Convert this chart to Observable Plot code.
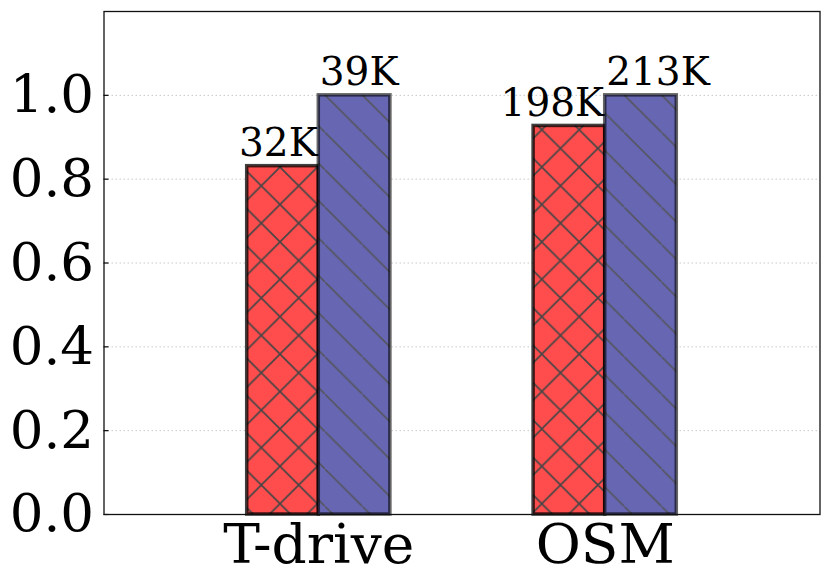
<!DOCTYPE html>
<html><head><meta charset="utf-8">
<script src="https://cdn.jsdelivr.net/npm/d3@7"></script>
<script src="https://cdn.jsdelivr.net/npm/@observablehq/plot@0.6"></script>
<style>html,body{margin:0;padding:0;background:#fff;} svg{display:block}</style>
</head><body><div id="chart"></div>
<script>
const categories = ["T-drive", "OSM"];
const redValues = [0.831, 0.927];
const blueValues = [1.0, 1.0];
const redLabels = ["32K", "198K"];
const blueLabels = ["39K", "213K"];
const yTicks = [0, 0.2, 0.4, 0.6, 0.8, 1.0];
const gridTicks = [0.2, 0.4, 0.6, 0.8, 1.0];

const barWidth = 0.25;
const red = categories.map((c, i) => ({i, cat: c, v: redValues[i], label: redLabels[i], x1: i - barWidth, x2: i}));
const blue = categories.map((c, i) => ({i, cat: c, v: blueValues[i], label: blueLabels[i], x1: i, x2: i + barWidth}));

const serif = "'DejaVu Serif', serif";
const svg = Plot.plot({
  width: 831, height: 584,
  marginLeft: 103.5, marginRight: 11.5, marginTop: 11, marginBottom: 70,
  style: {fontFamily: serif, background: "white", color: "black"},
  x: {type: "linear", domain: [-0.75, 1.75]},
  y: {domain: [0, 1.2]},
  marks: [
    Plot.gridY(gridTicks, {stroke: "#c8c8c8", strokeOpacity: 1, strokeWidth: 1, strokeDasharray: "1.5,2.5"}),
    Plot.rect(red, {x1: "x1", x2: "x2", y1: 0, y2: "v", fill: "url(#hatchRed)", stroke: "black", strokeOpacity: 0.75, strokeWidth: 3.5}),
    Plot.rect(blue, {x1: "x1", x2: "x2", y1: 0, y2: "v", fill: "url(#hatchBlue)", stroke: "black", strokeOpacity: 0.6, strokeWidth: 3.5}),
    Plot.text(red, {x: "x2", y: "v", text: "label", fontSize: 39, textAnchor: "end", lineAnchor: "bottom", dx: -1, dy: -10, fill: "black"}),
    Plot.text(blue, {x: "x1", y: "v", text: "label", fontSize: 39, textAnchor: "start", lineAnchor: "bottom", dx: 1, dy: -10, fill: "black"}),
    Plot.axisY({ticks: yTicks, tickFormat: d3.format(".1f"), tickSize: 0, tickPadding: 10, fontSize: 53, label: null}),
    Plot.axisY({ticks: yTicks, tickSize: -5, fill: "none", label: null, stroke: "black", strokeWidth: 1.2}),
    Plot.axisX({ticks: [0, 1], tickFormat: i => categories[i], tickSize: 0, tickPadding: 9, fontSize: 55, label: null}),
    Plot.frame({stroke: "#111", strokeWidth: 1.3})
  ]
});

const P = 37.4;
const defs = d3.select(svg).insert("defs", ":first-child");
const pr = defs.append("pattern").attr("id", "hatchRed").attr("patternUnits", "userSpaceOnUse")
  .attr("width", P).attr("height", P).attr("x", 280).attr("y", 316.7);
pr.append("rect").attr("width", P).attr("height", P).attr("fill", "#ff4d4d");
pr.append("path").attr("d", `M-2,-2L${P + 2},${P + 2}M-2,${P + 2}L${P + 2},-2`)
  .attr("stroke", "#454545").attr("stroke-width", 1.6).attr("fill", "none");
const pb = defs.append("pattern").attr("id", "hatchBlue").attr("patternUnits", "userSpaceOnUse")
  .attr("width", P).attr("height", P).attr("x", 325).attr("y", 95);
pb.append("rect").attr("width", P).attr("height", P).attr("fill", "#6666b3");
pb.append("path").attr("d", `M-2,-2L${P + 2},${P + 2}`)
  .attr("stroke", "#555560").attr("stroke-width", 1.6).attr("fill", "none");

document.getElementById("chart").appendChild(svg);
</script>
</body></html>
